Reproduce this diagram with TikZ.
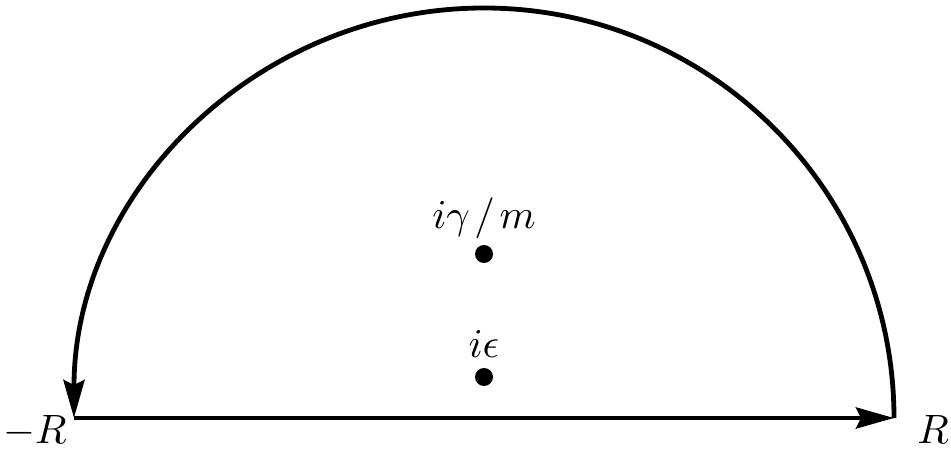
\documentclass[tikz,border=0pt]{standalone}
\usetikzlibrary{arrows.meta}
\newcommand{\biglbl}[1]{\scalebox{4.1}{#1}}
\begin{document}
\begin{tikzpicture}[x=1pt,y=1pt,
  contour/.style={line width=4.8pt, -{Stealth[length=38pt,width=21pt,inset=5pt]}},
  pole/.style={circle, fill=black, inner sep=0pt, minimum size=18pt},
  lbl/.style={inner sep=0pt, anchor=base}]
\useasboundingbox (0,0) rectangle (951,451);
\coordinate (O) at (484,33);
\coordinate (L) at (74,33);
\coordinate (Rt) at (894,33);
\draw[contour] (Rt) arc[start angle=0, end angle=180, radius=410];
\draw[contour] (L) -- (Rt);
\node[pole] (p1) at (484,197) {};
\node[pole] (p2) at (484,74) {};
\node[lbl] (t1) at (484,223) {\biglbl{$i\gamma\mkern2mu/\mkern2mu m$}};
\node[lbl] (t2) at (484,94) {\biglbl{$i\epsilon$}};
\node[lbl] (tl) at (35,8) {\biglbl{$-R$}};
\node[lbl] (tr) at (933,8) {\biglbl{$R$}};
\end{tikzpicture}
\end{document}
